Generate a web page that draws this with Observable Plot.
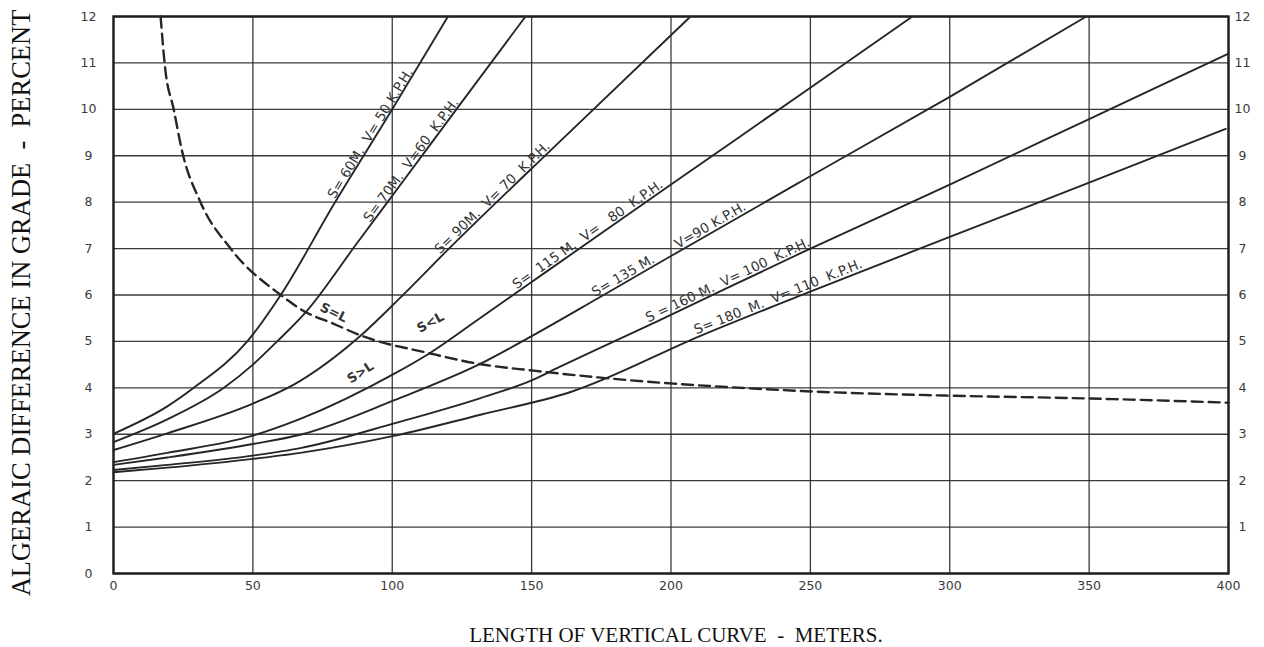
<!DOCTYPE html>
<html><head><meta charset="utf-8">
<script src="https://cdn.jsdelivr.net/npm/d3@7"></script>
<script src="https://cdn.jsdelivr.net/npm/@observablehq/plot@0.6"></script>
<style>
html,body{margin:0;padding:0;background:#fff;}
svg text{white-space:pre;}
</style></head><body><div id="chart"></div>
<script>
// ---- data ----
const lengthTicks = [0, 50, 100, 150, 200, 250, 300, 350, 400];
const gradeTicksLeft = [0, 1, 2, 3, 4, 5, 6, 7, 8, 9, 10, 11, 12];
const gradeTicksRight = [1, 2, 3, 4, 5, 6, 7, 8, 9, 10, 11, 12];

// [length of vertical curve (m), algebraic difference in grade (%)]
const curveS60 = [[0,3.01],[19.3,3.6],[28.8,4.0],[48,5.0],[60,6.0],[79,7.95],[100,10.0],[120,12]];
const curveS70 = [[0,2.83],[19.3,3.32],[39.6,4.0],[50,4.5],[58.7,5.0],[69,5.63],[87.4,7.12],[103,8.38],[125,10.16],[147.8,12]];
const curveS90 = [[0,2.66],[19.3,3.02],[50,3.66],[65,4.08],[88,5.09],[103,5.95],[119.7,6.96],[160,9.3],[207,12]];
const curveS115 = [[0,2.40],[19.3,2.6],[50,2.97],[67,3.33],[100.6,4.3],[113,4.73],[131.7,5.51],[150,6.28],[200,8.38],[246,10.3],[286.6,12]];
const curveS135 = [[0,2.34],[19.3,2.5],[50,2.79],[67,2.99],[101,3.74],[131.7,4.52],[150.2,5.12],[173.5,5.92],[200,6.84],[246.5,8.44],[300,10.27],[349,12]];
const curveS160 = [[0,2.23],[19.3,2.34],[50,2.54],[67,2.70],[101,3.24],[131.7,3.78],[150,4.16],[160,4.45],[196,5.46],[246.5,6.9],[300,8.38],[350,9.79],[400,11.2]];
const curveS180 = [[0,2.18],[19.3,2.28],[50,2.47],[67,2.6],[101,2.97],[131.7,3.42],[164,3.91],[210.6,5.12],[246.5,5.99],[300,7.25],[350,8.42],[399,9.58]];
const limitCurve = [[16.9,12],[18.5,10.9],[21.6,10],[24.6,9.1],[31.2,8.0],[42,7.0],[60,6.0],[69,5.63],[79,5.38],[88.6,5.13],[113.7,4.74],[130.6,4.52],[150.7,4.37],[174.7,4.22],[201,4.09],[222,4.01],[251,3.92],[301,3.83],[350.5,3.77],[400,3.68]];

const sightDistances = [60, 70, 90, 115, 135, 160, 180];
const designSpeeds = [50, 60, 70, 80, 90, 100, 110];
const curveLabels = [
  "S= 60M.  V= 50 K.P.H.",
  "S= 70M.  V=60  K.P.H.",
  "S= 90M.  V= 70  K.P.H.",
  "S=  115 M.  V=   80  K.P.H.",
  "S= 135 M.      V=90 K.P.H.",
  "S = 160 M.  V= 100  K.P.H.",
  "S= 180  M.  V= 110  K.P.H."
];
const labelAtLength = [93.5, 108, 137, 171, 200, 221, 239];
const regionNotes = [
  {t: "S=L", L: 79, A: 5.62, r: 26},
  {t: "S<L", L: 113.7, A: 5.41, r: -29},
  {t: "S>L", L: 88.6, A: 4.33, r: -33}
];
const xTitle = "LENGTH OF VERTICAL CURVE  -  METERS.";
const yTitle = "ALGERAIC DIFFERENCE IN GRADE  -  PERCENT";

// ---- build ----
const W = 1264, H = 647, mL = 113, mR = 36, mT = 16, mB = 74;
const xS = d3.scaleLinear([0, 400], [mL, W - mR]);
const yS = d3.scaleLinear([0, 12], [H - mB, mT]);

const curvePoints = [curveS60, curveS70, curveS90, curveS115, curveS135, curveS160, curveS180];
const lineRows = curvePoints.flatMap((pts, i) => pts.map(([L, A]) => ({S: sightDistances[i], V: designSpeeds[i], L, A})));

function locate(pts, L) {
  let i = 0;
  while (i < pts.length - 2 && pts[i + 1][0] < L) i++;
  const [L0, A0] = pts[i], [L1, A1] = pts[i + 1];
  const t = (L - L0) / (L1 - L0);
  const A = A0 + t * (A1 - A0);
  const ang = Math.atan2(yS(A1) - yS(A0), xS(L1) - xS(L0)) * 180 / Math.PI;
  return {A, ang};
}
const labelRows = curvePoints.map((pts, i) => {
  const {A, ang} = locate(pts, labelAtLength[i]);
  return {t: curveLabels[i], L: labelAtLength[i], A, r: ang};
});

const ink = "#262626";
const chart = Plot.plot({
  width: W, height: H,
  marginLeft: mL, marginRight: mR, marginTop: mT, marginBottom: mB,
  style: {fontFamily: "DejaVu Sans, sans-serif", background: "#fff", color: "#333"},
  x: {domain: [0, 400]},
  y: {domain: [0, 12]},
  marks: [
    Plot.gridX(lengthTicks, {stroke: ink, strokeOpacity: 0.9, strokeWidth: 1.3}),
    Plot.gridY(gradeTicksLeft, {stroke: ink, strokeOpacity: 0.9, strokeWidth: 1.3}),
    Plot.frame({stroke: "#1e1e1e", strokeWidth: 2.4}),
    Plot.axisX(lengthTicks, {tickSize: 0, tickPadding: 8, fontSize: 12.5, color: "#3a3a3a", label: null}),
    Plot.axisY(gradeTicksLeft, {anchor: "left", tickSize: 0, tickPadding: 25, textAnchor: "middle", fontSize: 12.5, color: "#3a3a3a", label: null}),
    Plot.axisY(gradeTicksRight, {anchor: "right", tickSize: 0, tickPadding: 14, textAnchor: "middle", fontSize: 12.5, color: "#3a3a3a", label: null}),
    Plot.line(lineRows, {x: "L", y: "A", z: "S", curve: "monotone-x", stroke: ink, strokeWidth: 1.9}),
    Plot.line(limitCurve, {x: d => d[0], y: d => d[1], curve: "monotone-x", stroke: ink, strokeWidth: 2.4, strokeDasharray: "11,6"}),
    Plot.text(labelRows, {x: "L", y: "A", text: "t", rotate: "r", lineAnchor: "bottom", textAnchor: "middle", dy: -3, fontSize: 13.5, fill: "#333"}),
    Plot.text(regionNotes, {x: "L", y: "A", text: "t", rotate: "r", fontSize: 13, fontWeight: "bold", fill: "#333"}),
    Plot.text([xTitle], {text: d => d, frameAnchor: "bottom", dx: 5, dy: 62, textAnchor: "middle", lineAnchor: "middle", fontSize: 21, fontFamily: "Liberation Serif, serif", fill: "#111"}),
    Plot.text([yTitle], {text: d => d, frameAnchor: "left", dx: -91.5, dy: 8, rotate: -90, textAnchor: "middle", lineAnchor: "middle", fontSize: 26.5, fontFamily: "Liberation Serif, serif", fill: "#111"})
  ]
});
document.getElementById("chart").append(chart);
</script>
</body></html>
